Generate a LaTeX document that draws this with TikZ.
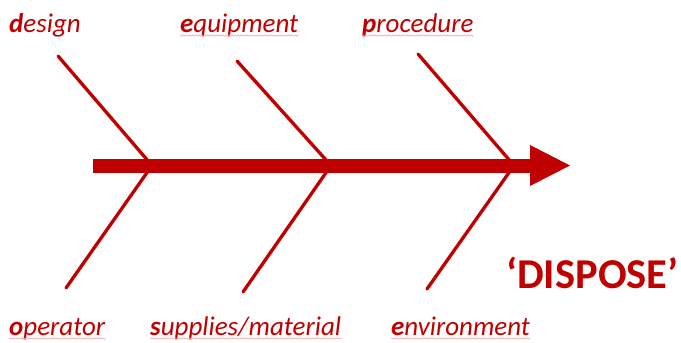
\documentclass[tikz,border=0pt]{standalone}
\usepackage{fontspec}
\setmainfont{Carlito}
\usetikzlibrary{decorations.pathmorphing}
\definecolor{fishred}{HTML}{C00000}
\begin{document}
\begin{tikzpicture}[x=1pt,y=-1pt,
  bone/.style={draw=fishred,line width=3.3pt,line cap=round},
  spine/.style={draw=fishred,line width=14pt},
  lab/.style={text=fishred,font=\fontsize{27}{30}\selectfont\itshape,inner sep=0pt,anchor=base west},
  big/.style={text=fishred,font=\fontsize{42.5}{46}\selectfont\bfseries,inner sep=0pt,anchor=base west},
  squig/.style={draw=fishred!35,line width=0.6pt,decorate,decoration={snake,amplitude=0.7pt,segment length=3pt}}]
\useasboundingbox (0,0) rectangle (681,343);
% spine and junctions
\coordinate (tail) at (93,165.5);
\coordinate (head) at (532,165.5);
\coordinate (tip) at (570,165.5);
\coordinate (j1) at (152,165.5);
\coordinate (j2) at (331,165.5);
\coordinate (j3) at (514,165.5);
% bone ends
\coordinate (u1) at (58,56);
\coordinate (u2) at (237,61);
\coordinate (u3) at (418,54);
\coordinate (l1) at (66,288);
\coordinate (l2) at (243,292);
\coordinate (l3) at (427,289);
\draw[bone] (u1) -- (j1) -- (l1);
\draw[bone] (u2) -- (j2) -- (l2);
\draw[bone] (u3) -- (j3) -- (l3);
\draw[spine] (tail) -- ([xshift=1pt]head);
\fill[fishred] (530,145) -- (tip) -- (530,186) -- cycle;
% labels
\node[lab] (design) at (9,32) {\textbf{d}esign};
\node[lab] (equip) at (180,32) {\textbf{e}quipment};
\node[lab] (proc) at (362,32) {\textbf{p}rocedure};
\node[lab] (oper) at (9,335) {\textbf{o}perator};
\node[lab] (supp) at (150,335) {\textbf{s}upplies/material};
\node[lab] (env) at (391,335) {\textbf{e}nvironment};
\node[big] (disp) at (506,288) {‘DISPOSE’};
% spell-check underlines
\foreach \n in {equip,proc,oper,supp,env}
  \draw[squig] ([yshift=-3.5pt]\n.base west) -- ([yshift=-3.5pt]\n.base east);
\end{tikzpicture}
\end{document}
